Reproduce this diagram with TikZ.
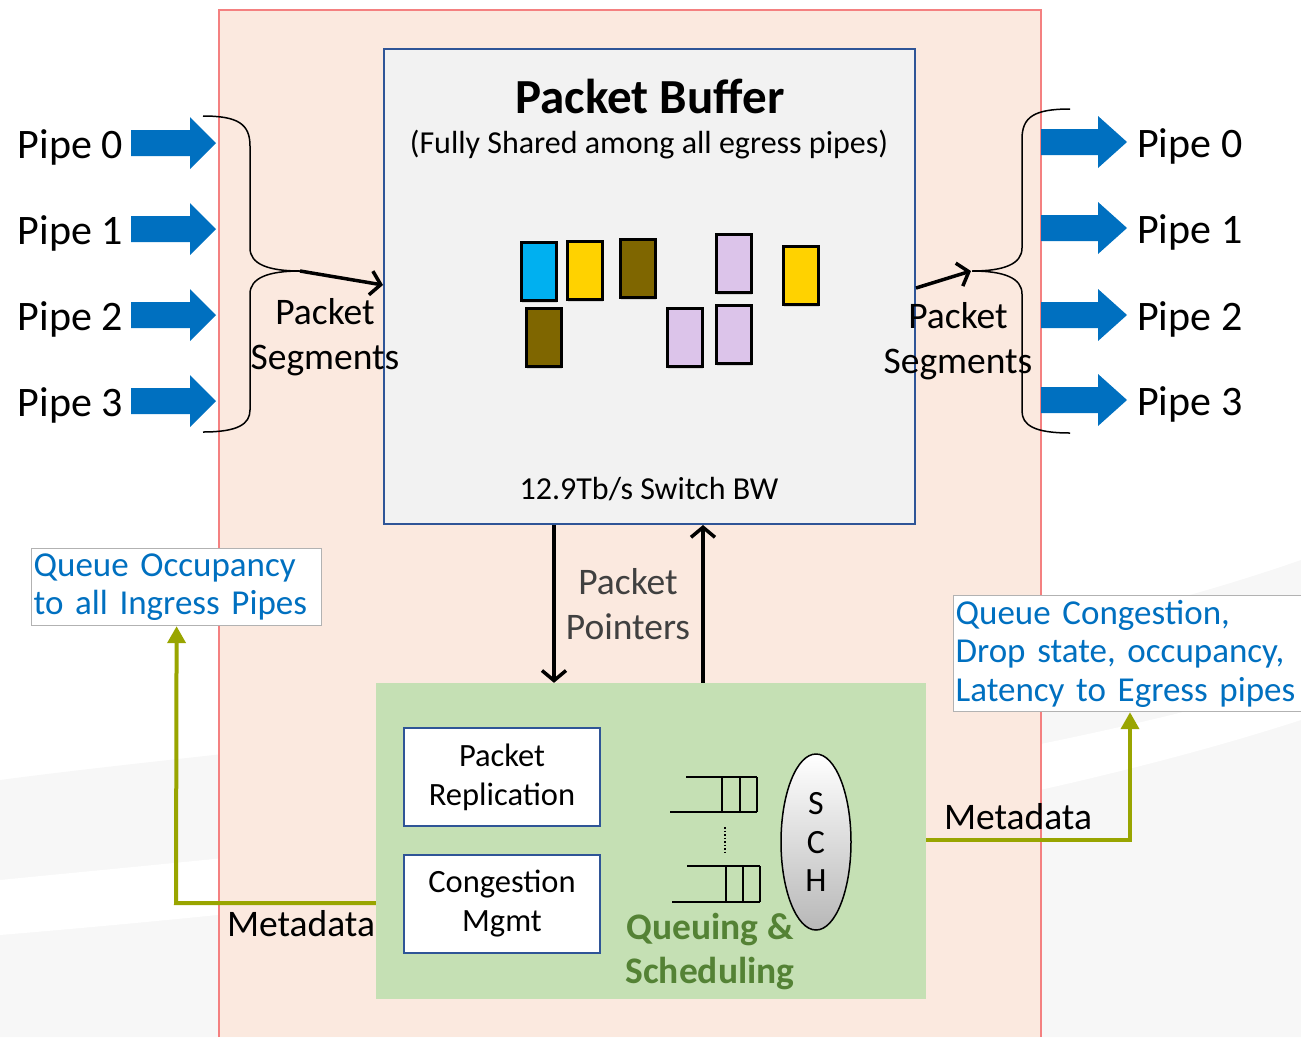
\documentclass[tikz,border=0pt]{standalone}
\usepackage{fontspec}
\setmainfont{Carlito}
\usetikzlibrary{positioning,shapes.geometric,shadows,arrows.meta}

\definecolor{pipeblue}{RGB}{0,112,192}
\definecolor{bandfill}{RGB}{251,233,223}
\definecolor{bandline}{RGB}{244,128,128}
\definecolor{bufline}{RGB}{47,85,151}
\definecolor{buffill}{RGB}{242,242,242}
\definecolor{qfill}{RGB}{197,224,180}
\definecolor{qtext}{RGB}{84,130,53}
\definecolor{metaline}{RGB}{153,165,0}
\definecolor{pkcyan}{RGB}{0,176,240}
\definecolor{pkyellow}{RGB}{255,210,0}
\definecolor{pkolive}{RGB}{127,102,0}
\definecolor{pklilac}{RGB}{220,196,234}

\tikzset{
  pipetext/.style={font=\fontsize{42}{48}\selectfont, inner sep=0pt},
  packet/.style={draw=black, line width=2.5pt, minimum width=35pt, minimum height=58pt, inner sep=0pt, anchor=north west,
    drop shadow={opacity=0.25, shadow xshift=1pt, shadow yshift=-3pt}},
  unit/.style={draw=bufline, line width=2pt, fill=white, minimum width=196pt, minimum height=98pt, align=center,
    font=\fontsize{32.5}{39}\selectfont},
  note/.style={draw=black!30, line width=1.2pt, fill=white, text=pipeblue, align=left, anchor=north west,
    inner sep=2pt, font=\fontsize{35}{38.5}\selectfont},
  ptr/.style={line width=3.5pt, -{Straight Barb[length=10pt,width=24pt,line width=3.5pt]}},
  meta/.style={draw=metaline, line width=4pt, -{Triangle[length=17pt,width=18pt]}},
  brace/.style={line width=1.5pt},
  seg/.style={font=\fontsize{37.5}{45}\selectfont, align=center, inner sep=0pt},
}

\begin{document}
\begin{tikzpicture}[x=1pt,y=-1pt]
\useasboundingbox (0,0) rectangle (1301,1037);

% background swooshes
\fill[black!3] (0,780) .. controls (300,740) and (900,700) .. (1301,560) -- (1301,1037) -- (0,1037) -- cycle;
\fill[white] (0,880) .. controls (300,850) and (900,800) .. (1301,680) -- (1301,720) .. controls (900,850) and (300,910) .. (0,935) -- cycle;

% shared band
\fill[bandfill] (219,10) rectangle (1041,1037);
\draw[bandline, line width=1.5pt] (219,1037) -- (219,10) -- (1041,10) -- (1041,1037);

% ingress and egress pipes
\foreach \py [count=\i from 0] in {143,229,315,401}{
  \fill[pipeblue] (131,\py-13) -- (190,\py-13) -- (190,\py-26) -- (216,\py) -- (190,\py+26) -- (190,\py+13) -- (131,\py+13) -- cycle;
  \node[pipetext, anchor=base east] (inpipe\i) at (123,\py+15) {Pipe \i};
}
\foreach \py [count=\i from 0] in {142,228,315,400}{
  \fill[pipeblue] (1041,\py-13) -- (1098,\py-13) -- (1098,\py-26) -- (1127,\py) -- (1098,\py+26) -- (1098,\py+13) -- (1041,\py+13) -- cycle;
  \node[pipetext, anchor=base west] (outpipe\i) at (1137,\py+15) {Pipe \i};
}

% packet buffer
\node[draw=bufline, fill=buffill, line width=2pt, minimum width=531pt, minimum height=475pt] (buffer) at (649.5,286.5) {};
\node[font=\bfseries\fontsize{49}{54}\selectfont] (buftitle) at (650,96) {Packet Buffer};
\node[font=\fontsize{32}{36}\selectfont] (bufsub) at (649,145) {(Fully Shared among all egress pipes)};
\node[font=\fontsize{32}{36}\selectfont] (bufbw) at (649,489) {12.9Tb/s Switch BW};

\node[packet, fill=pkcyan] (pk1) at (520,241) {};
\node[packet, fill=pkyellow] (pk2) at (566,240) {};
\node[packet, fill=pkolive] (pk3) at (619,238) {};
\node[packet, fill=pklilac] (pk4) at (715,233) {};
\node[packet, fill=pkyellow] (pk5) at (782,245) {};
\node[packet, fill=pkolive] (pk6) at (525,307) {};
\node[packet, fill=pklilac] (pk7) at (666,307) {};
\node[packet, fill=pklilac] (pk8) at (715,304) {};

% braces
\draw[brace] (203,116) .. controls (238,116) and (250,124) .. (250,146) -- (250,248) .. controls (250,264) and (268,271) .. (300,271);
\draw[brace] (300,271) .. controls (268,271) and (250,278) .. (250,294) -- (250,410) .. controls (250,424) and (238,432) .. (203,432);
\draw[brace] (1070,109) .. controls (1034,109) and (1022,117) .. (1022,139) -- (1022,248) .. controls (1022,264) and (1004,271) .. (972,271);
\draw[brace] (972,271) .. controls (1004,271) and (1022,278) .. (1022,294) -- (1022,411) .. controls (1022,425) and (1034,433) .. (1070,433);

\coordinate (lcusp) at (300,271);
\coordinate (rcusp) at (971,271);
\coordinate (lin) at (383,285);
\coordinate (rout) at (915,288);
\draw[ptr] (lcusp) -- (buffer.west |- lin);
\draw[ptr] (buffer.east |- rout) -- (rcusp);
\node[seg] (lseg) at (325,337) {Packet\\Segments};
\node[seg] (rseg) at (958,341) {Packet\\Segments};

% queuing and scheduling
\node[fill=qfill, minimum width=550pt, minimum height=316pt] (green) at (651,841) {};
\node[unit] (repl) at (502,777) {Packet\\Replication};
\node[unit] (cong) at (502,903.5) {Congestion\\Mgmt};

\draw[line width=2pt] (686,777) -- (757,777) (670,812) -- (757,812)
  (722,777) -- (722,812) (740,777) -- (740,812) (757,777) -- (757,812);
\draw[line width=2pt] (687,866) -- (760,866) (672,902) -- (760,902)
  (726,866) -- (726,902) (743,866) -- (743,902) (760,866) -- (760,902);
\draw[dotted, line width=1.5pt] (725,827) -- (725,853);

\node[ellipse, draw, line width=1.5pt, top color=white, bottom color=black!28, minimum width=70pt, minimum height=176pt,
  inner sep=0pt, align=center, font=\fontsize{34}{38.5}\selectfont] (sch) at (816,842) {S\\C\\H};
\node[font=\bfseries\fontsize{37.5}{44}\selectfont, text=qtext, align=center] (qs) at (710,952) {Queuing \&\\Scheduling};

% packet pointers
\coordinate (ptrdown) at (554,600);
\coordinate (ptrup) at (703,600);
\draw[ptr] (buffer.south -| ptrdown) -- (green.north -| ptrdown);
\draw[ptr] (green.north -| ptrup) -- (buffer.south -| ptrup);
\node[seg, text=black!75] (ptrtext) at (628,604) {Packet\\Pointers};

% metadata
\node[note, text width=286pt, minimum height=77pt] (occ) at (31,548) {Queue Occupancy\\to all Ingress Pipes};
\node[note, text width=346pt, minimum height=116pt] (egr) at (953,595) {Queue Congestion,\\Drop state, occupancy,\\Latency to Egress pipes};

\coordinate (mdl) at (176,903);
\coordinate (mdr) at (1130,840);
\draw[meta] (green.west |- mdl) -- (mdl) -- (occ.south);
\draw[meta] (green.east |- mdr) -- (mdr) -- (egr.south -| mdr);
\node[seg] (mdltext) at (301,924) {Metadata};
\node[seg] (mdrtext) at (1018,817) {Metadata};
\end{tikzpicture}
\end{document}
